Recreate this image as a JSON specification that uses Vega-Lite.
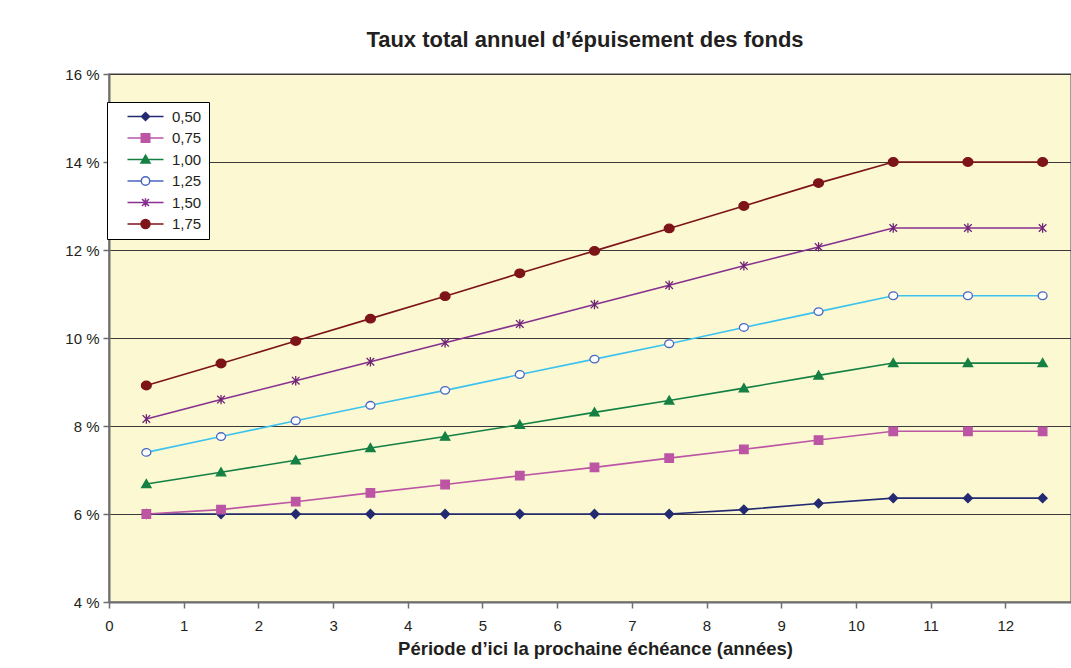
{
  "$schema": "https://vega.github.io/schema/vega-lite/v6.json",
  "autosize": "none",
  "padding": {"left": 109, "top": 74, "right": 0, "bottom": 66},
  "width": 962,
  "height": 528,
  "background": "white",
  "title": {
    "text": "Taux total annuel d’épuisement des fonds",
    "font": "Liberation Sans",
    "fontSize": 22,
    "fontWeight": "bold",
    "color": "#231F20",
    "anchor": "middle",
    "dx": -5,
    "offset": 15
  },
  "data": {
    "values": [
      {"series": "0,50", "x": 0.5, "y": 6.0}, {"series": "0,50", "x": 1.5, "y": 6.0}, {"series": "0,50", "x": 2.5, "y": 6.0}, {"series": "0,50", "x": 3.5, "y": 6.0}, {"series": "0,50", "x": 4.5, "y": 6.0}, {"series": "0,50", "x": 5.5, "y": 6.0}, {"series": "0,50", "x": 6.5, "y": 6.0}, {"series": "0,50", "x": 7.5, "y": 6.0}, {"series": "0,50", "x": 8.5, "y": 6.1}, {"series": "0,50", "x": 9.5, "y": 6.24}, {"series": "0,50", "x": 10.5, "y": 6.36}, {"series": "0,50", "x": 11.5, "y": 6.36}, {"series": "0,50", "x": 12.5, "y": 6.36},
      {"series": "0,75", "x": 0.5, "y": 6.0}, {"series": "0,75", "x": 1.5, "y": 6.1}, {"series": "0,75", "x": 2.5, "y": 6.28}, {"series": "0,75", "x": 3.5, "y": 6.48}, {"series": "0,75", "x": 4.5, "y": 6.67}, {"series": "0,75", "x": 5.5, "y": 6.87}, {"series": "0,75", "x": 6.5, "y": 7.06}, {"series": "0,75", "x": 7.5, "y": 7.27}, {"series": "0,75", "x": 8.5, "y": 7.47}, {"series": "0,75", "x": 9.5, "y": 7.68}, {"series": "0,75", "x": 10.5, "y": 7.88}, {"series": "0,75", "x": 11.5, "y": 7.88}, {"series": "0,75", "x": 12.5, "y": 7.88},
      {"series": "1,00", "x": 0.5, "y": 6.68}, {"series": "1,00", "x": 1.5, "y": 6.95}, {"series": "1,00", "x": 2.5, "y": 7.22}, {"series": "1,00", "x": 3.5, "y": 7.5}, {"series": "1,00", "x": 4.5, "y": 7.76}, {"series": "1,00", "x": 5.5, "y": 8.03}, {"series": "1,00", "x": 6.5, "y": 8.31}, {"series": "1,00", "x": 7.5, "y": 8.58}, {"series": "1,00", "x": 8.5, "y": 8.86}, {"series": "1,00", "x": 9.5, "y": 9.15}, {"series": "1,00", "x": 10.5, "y": 9.43}, {"series": "1,00", "x": 11.5, "y": 9.43}, {"series": "1,00", "x": 12.5, "y": 9.43},
      {"series": "1,25", "x": 0.5, "y": 7.4}, {"series": "1,25", "x": 1.5, "y": 7.76}, {"series": "1,25", "x": 2.5, "y": 8.12}, {"series": "1,25", "x": 3.5, "y": 8.47}, {"series": "1,25", "x": 4.5, "y": 8.81}, {"series": "1,25", "x": 5.5, "y": 9.17}, {"series": "1,25", "x": 6.5, "y": 9.52}, {"series": "1,25", "x": 7.5, "y": 9.87}, {"series": "1,25", "x": 8.5, "y": 10.24}, {"series": "1,25", "x": 9.5, "y": 10.6}, {"series": "1,25", "x": 10.5, "y": 10.96}, {"series": "1,25", "x": 11.5, "y": 10.96}, {"series": "1,25", "x": 12.5, "y": 10.96},
      {"series": "1,50", "x": 0.5, "y": 8.16}, {"series": "1,50", "x": 1.5, "y": 8.6}, {"series": "1,50", "x": 2.5, "y": 9.03}, {"series": "1,50", "x": 3.5, "y": 9.46}, {"series": "1,50", "x": 4.5, "y": 9.89}, {"series": "1,50", "x": 5.5, "y": 10.32}, {"series": "1,50", "x": 6.5, "y": 10.76}, {"series": "1,50", "x": 7.5, "y": 11.2}, {"series": "1,50", "x": 8.5, "y": 11.64}, {"series": "1,50", "x": 9.5, "y": 12.07}, {"series": "1,50", "x": 10.5, "y": 12.5}, {"series": "1,50", "x": 11.5, "y": 12.5}, {"series": "1,50", "x": 12.5, "y": 12.5},
      {"series": "1,75", "x": 0.5, "y": 8.92}, {"series": "1,75", "x": 1.5, "y": 9.42}, {"series": "1,75", "x": 2.5, "y": 9.93}, {"series": "1,75", "x": 3.5, "y": 10.44}, {"series": "1,75", "x": 4.5, "y": 10.95}, {"series": "1,75", "x": 5.5, "y": 11.47}, {"series": "1,75", "x": 6.5, "y": 11.98}, {"series": "1,75", "x": 7.5, "y": 12.49}, {"series": "1,75", "x": 8.5, "y": 13.0}, {"series": "1,75", "x": 9.5, "y": 13.52}, {"series": "1,75", "x": 10.5, "y": 14.0}, {"series": "1,75", "x": 11.5, "y": 14.0}, {"series": "1,75", "x": 12.5, "y": 14.0}
    ]
  },
  "encoding": {
    "x": {
      "field": "x", "type": "quantitative",
      "scale": {"domain": [0, 12.88], "nice": false, "zero": false},
      "axis": {
        "values": [0, 1, 2, 3, 4, 5, 6, 7, 8, 9, 10, 11, 12],
        "grid": false,
        "title": "Période d’ici la prochaine échéance (années)",
        "titleFont": "Liberation Sans", "titleFontSize": 18.5, "titleFontWeight": "bold", "titleColor": "#231F20",
        "titleX": 486, "titleY": 46, "titleBaseline": "middle", "titleAnchor": "middle",
        "labelFont": "Liberation Sans", "labelFontSize": 15, "labelColor": "#231F20",
        "labelDx": 6, "labelPadding": 10, "labelFlush": false,
        "domainColor": "#6E6E6E", "domainWidth": 2,
        "tickColor": "#6E6E6E", "tickSize": 6, "tickWidth": 1.5
      }
    },
    "y": {
      "field": "y", "type": "quantitative",
      "scale": {"domain": [4, 16], "nice": false, "zero": false},
      "axis": {
        "values": [4, 6, 8, 10, 12, 14, 16],
        "labelExpr": "datum.value + ' %'",
        "title": null,
        "grid": true, "gridColor": "#3A3A3A", "gridWidth": 1,
        "labelFont": "Liberation Sans", "labelFontSize": 15, "labelColor": "#231F20",
        "labelPadding": 4,
        "domainColor": "#6E6E6E", "domainWidth": 2,
        "tickColor": "#6E6E6E", "tickSize": 6, "tickWidth": 1.5
      }
    }
  },
  "layer": [
    {
      "mark": {"type": "line", "strokeWidth": 1.6},
      "encoding": {
        "color": {
          "field": "series", "type": "nominal",
          "scale": {"domain": ["1,75", "1,50", "1,25", "1,00", "0,75", "0,50"],
                    "range": ["#7D1418", "#86308F", "#3CC2EE", "#148043", "#BC56A4", "#232A72"]},
          "legend": null
        }
      }
    },
    {
      "mark": {"type": "point", "filled": false, "opacity": 1, "strokeWidth": 1.3, "size": 80},
      "encoding": {
        "shape": {
          "field": "series", "type": "nominal",
          "scale": {"domain": ["1,75", "1,50", "1,25", "1,00", "0,75", "0,50"],
                    "range": [
                      "M-1.1,0A1.1,0.95,0,1,0,1.1,0A1.1,0.95,0,1,0,-1.1,0Z",
                      "M-0.85,-0.85L0.85,0.85M-0.85,0.85L0.85,-0.85M0,-1.05L0,1.05",
                      "M-1,0A1,0.85,0,1,0,1,0A1,0.85,0,1,0,-1,0Z",
                      "M0,-1L1.05,0.8L-1.05,0.8Z",
                      "M-0.95,-0.95L0.95,-0.95L0.95,0.95L-0.95,0.95Z",
                      "M0,-1L1,0L0,1L-1,0Z"
                    ]},
          "legend": null
        },
        "fill": {
          "field": "series", "type": "nominal",
          "scale": {"domain": ["1,75", "1,50", "1,25", "1,00", "0,75", "0,50"],
                    "range": ["#7D1418", "transparent", "#FFFFFF", "#148043", "#BC56A4", "#232A72"]},
          "legend": null
        },
        "stroke": {
          "field": "series", "type": "nominal",
          "scale": {"domain": ["1,75", "1,50", "1,25", "1,00", "0,75", "0,50"],
                    "range": ["#7D1418", "#6E2475", "#4A66C4", "#148043", "#BC56A4", "#232A72"]},
          "legend": null
        }
      }
    },
    {
      "data": {"values": []},
      "mark": {"type": "point", "filled": false, "opacity": 1, "strokeWidth": 1.5, "size": 100},
      "encoding": {
        "shape": {
          "field": "series", "type": "nominal",
          "scale": {"domain": ["0,50", "0,75", "1,00", "1,25", "1,50", "1,75"],
                    "range": [
                      "M-3.6,0L3.6,0M0,-0.8L0.8,0L0,0.8L-0.8,0Z",
                      "M-3.6,0L3.6,0M-0.85,-0.85L0.85,-0.85L0.85,0.85L-0.85,0.85Z",
                      "M-3.6,0L3.6,0M0,-0.85L0.9,0.7L-0.9,0.7Z",
                      "M-3.6,0L-0.85,0M0.85,0L3.6,0M-0.85,0A0.85,0.85,0,1,0,0.85,0A0.85,0.85,0,1,0,-0.85,0Z",
                      "M-3.6,0L3.6,0M-0.7,-0.7L0.7,0.7M-0.7,0.7L0.7,-0.7M0,-0.85L0,0.85",
                      "M-3.6,0L3.6,0M-0.9,0A0.9,0.9,0,1,0,0.9,0A0.9,0.9,0,1,0,-0.9,0Z"
                    ]},
          "legend": {
            "title": null, "orient": "none", "legendX": -2, "legendY": 28, "direction": "vertical",
            "fillColor": "white", "strokeColor": "#000000", "padding": 7,
            "symbolSize": 100, "symbolStrokeWidth": 1.5, "symbolOpacity": 1,
            "symbolOffset": 24, "labelOffset": 19, "rowPadding": 5.5,
            "labelFont": "Liberation Sans", "labelFontSize": 15, "labelColor": "#231F20",
            "labelExpr": "datum.label + '\u00a0\u00a0\u00a0\u00a0\u00a0\u00a0\u00a0'"
          }
        },
        "fill": {
          "field": "series", "type": "nominal",
          "scale": {"domain": ["0,50", "0,75", "1,00", "1,25", "1,50", "1,75"],
                    "range": ["#232A72", "#BC56A4", "#148043", "#FFFFFF", "transparent", "#7D1418"]},
          "legend": {
            "title": null, "orient": "none", "legendX": -2, "legendY": 28, "direction": "vertical",
            "fillColor": "white", "strokeColor": "#000000", "padding": 7,
            "symbolSize": 100, "symbolStrokeWidth": 1.5, "symbolOpacity": 1,
            "symbolOffset": 24, "labelOffset": 19, "rowPadding": 5.5,
            "labelFont": "Liberation Sans", "labelFontSize": 15, "labelColor": "#231F20",
            "labelExpr": "datum.label + '\u00a0\u00a0\u00a0\u00a0\u00a0\u00a0\u00a0'"
          }
        },
        "stroke": {
          "field": "series", "type": "nominal",
          "scale": {"domain": ["0,50", "0,75", "1,00", "1,25", "1,50", "1,75"],
                    "range": ["#232A72", "#BC56A4", "#148043", "#4A66C4", "#86308F", "#7D1418"]},
          "legend": {
            "title": null, "orient": "none", "legendX": -2, "legendY": 28, "direction": "vertical",
            "fillColor": "white", "strokeColor": "#000000", "padding": 7,
            "symbolSize": 100, "symbolStrokeWidth": 1.5, "symbolOpacity": 1,
            "symbolOffset": 24, "labelOffset": 19, "rowPadding": 5.5,
            "labelFont": "Liberation Sans", "labelFontSize": 15, "labelColor": "#231F20",
            "labelExpr": "datum.label + '\u00a0\u00a0\u00a0\u00a0\u00a0\u00a0\u00a0'"
          }
        }
      }
    },
    {
      "data": {"values": [{"label": "Ratio"}]},
      "mark": {"type": "text", "font": "Liberation Sans", "fontSize": 15, "color": "#231F20", "align": "left", "baseline": "middle"},
      "encoding": {
        "x": {"datum": 0.15},
        "y": {"datum": 15.62},
        "text": {"field": "label"}
      }
    },
    {
      "data": {"values": [{"label": "VC/VG"}]},
      "mark": {"type": "text", "font": "Liberation Serif", "fontSize": 16, "fontStyle": "italic", "color": "#231F20", "align": "left", "baseline": "middle"},
      "encoding": {
        "x": {"datum": 0.71},
        "y": {"datum": 15.62},
        "text": {"field": "label"}
      }
    }
  ],
  "resolve": {
    "scale": {"shape": "independent", "fill": "independent", "stroke": "independent"},
    "legend": {"shape": "independent", "fill": "independent", "stroke": "independent"}
  },
  "config": {
    "view": {"fill": "#FBF8D2", "stroke": "#808080", "strokeWidth": 1.5}
  }
}
